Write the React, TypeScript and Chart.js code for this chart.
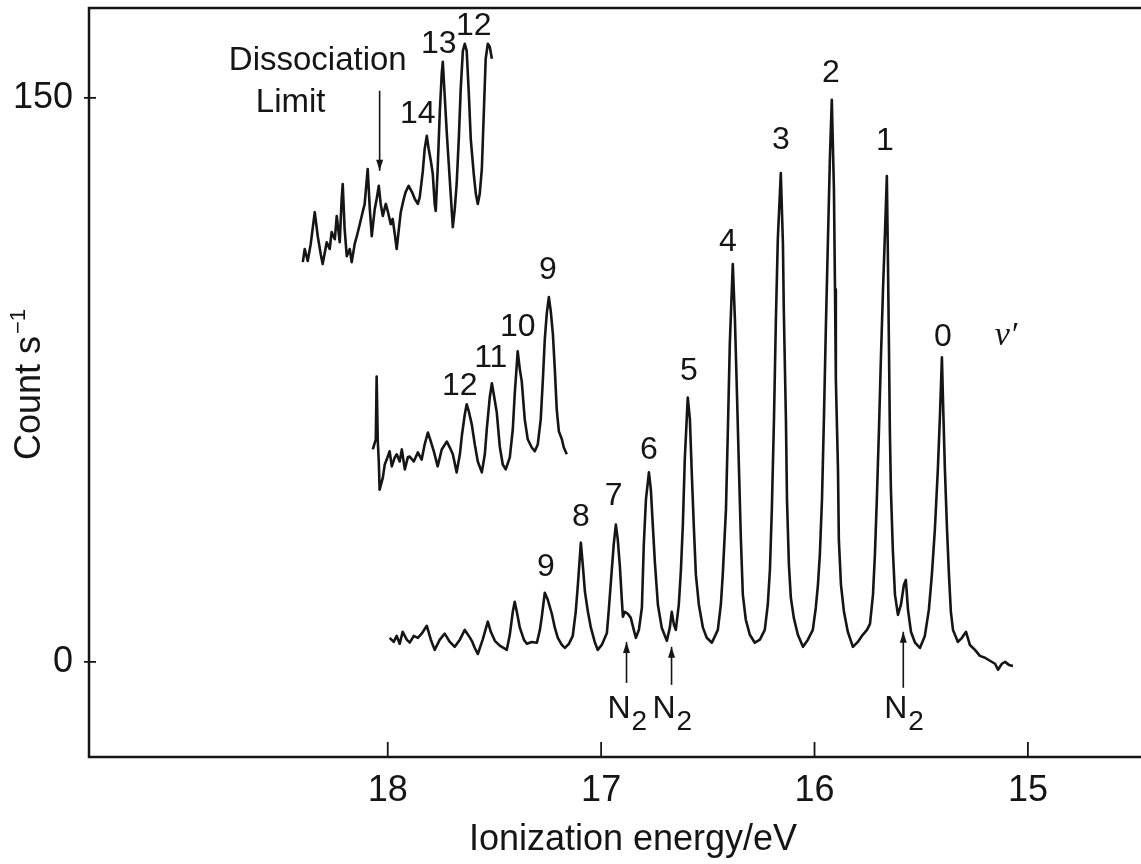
import { useEffect, useRef } from "react";
import { Chart, registerables } from "chart.js";

Chart.register(...registerables);

// ---------- axis ticks ----------
const xTickValues = [18, 17, 16, 15];
const yTickValues = [0, 150];
const xTitle = "Ionization energy/eV";

// ---------- main spectrum (v' = 0 ... 9 and beyond) ----------
const mainEnergy = [
  17.991, 17.972, 17.958, 17.944, 17.93, 17.911, 17.897, 17.878, 17.859, 17.841,
  17.817, 17.798, 17.78, 17.756, 17.733, 17.709, 17.686, 17.662, 17.639, 17.62,
  17.606, 17.592, 17.578, 17.555, 17.531, 17.517, 17.498, 17.475, 17.442, 17.428,
  17.414, 17.405, 17.395, 17.381, 17.362, 17.348, 17.325, 17.301, 17.287, 17.278,
  17.264, 17.25, 17.231, 17.217, 17.203, 17.184, 17.17, 17.151, 17.133, 17.119,
  17.109, 17.095, 17.086, 17.076, 17.062, 17.048, 17.03, 17.016, 16.997, 16.973,
  16.964, 16.95, 16.941, 16.931, 16.922, 16.912, 16.903, 16.898, 16.889, 16.875,
  16.861, 16.847, 16.837, 16.823, 16.809, 16.8, 16.79, 16.776, 16.767, 16.758,
  16.748, 16.734, 16.716, 16.692, 16.678, 16.669, 16.659, 16.65, 16.636, 16.626,
  16.617, 16.608, 16.594, 16.584, 16.575, 16.565, 16.556, 16.542, 16.523, 16.505,
  16.481, 16.453, 16.439, 16.43, 16.415, 16.406, 16.397, 16.383, 16.373, 16.364,
  16.354, 16.345, 16.336, 16.322, 16.303, 16.28, 16.256, 16.233, 16.219, 16.209,
  16.2, 16.19, 16.181, 16.172, 16.158, 16.148, 16.144, 16.134, 16.129, 16.12,
  16.111, 16.097, 16.078, 16.054, 16.031, 16.008, 15.994, 15.984, 15.975, 15.965,
  15.956, 15.947, 15.937, 15.928, 15.919, 15.909, 15.904, 15.9, 15.89, 15.886,
  15.876, 15.862, 15.844, 15.82, 15.797, 15.778, 15.754, 15.74, 15.726, 15.717,
  15.708, 15.698, 15.689, 15.679, 15.67, 15.661, 15.656, 15.651, 15.647, 15.642,
  15.633, 15.623, 15.609, 15.595, 15.581, 15.572, 15.562, 15.548, 15.529, 15.506,
  15.483, 15.464, 15.45, 15.436, 15.422, 15.412, 15.403, 15.398, 15.389, 15.379,
  15.37, 15.361, 15.351, 15.328, 15.309, 15.29, 15.272, 15.248, 15.225, 15.201,
  15.178, 15.154, 15.14, 15.122, 15.107, 15.089, 15.07,
];
const mainCount = [
  6.4, 5.3, 6.9, 4.8, 8.0, 5.9, 5.1, 6.9, 6.4, 7.5,
  9.6, 5.9, 3.2, 5.9, 7.5, 5.3, 4.0, 5.9, 8.5, 6.9,
  5.6, 3.7, 2.1, 5.9, 10.7, 8.0, 5.6, 4.3, 3.2, 7.2,
  13.3, 16.0, 13.3, 9.1, 5.9, 4.8, 5.3, 5.1, 8.5, 12.0,
  18.4, 16.5, 12.8, 9.1, 6.4, 4.5, 3.7, 4.8, 6.9, 13.3,
  20.5, 31.7, 25.8, 18.7, 13.3, 9.1, 5.3, 3.2, 4.5, 7.7,
  13.9, 24.5, 31.2, 36.5, 32.5, 25.3, 16.5, 12.0, 13.3, 12.8,
  11.7, 8.5, 6.4, 8.5, 14.4, 31.2, 43.2, 50.4, 45.8, 36.5,
  26.4, 15.2, 9.1, 5.6, 9.1, 13.3, 9.9, 8.5, 15.2, 24.5,
  36.5, 53.8, 70.3, 64.5, 49.8, 35.2, 23.2, 15.2, 9.1, 6.4,
  5.1, 8.5, 15.2, 23.2, 40.5, 61.8, 84.5, 105.8, 91.1, 72.5,
  51.2, 32.5, 17.9, 11.2, 7.2, 5.1, 5.9, 8.5, 15.2, 24.5,
  40.5, 64.5, 91.1, 112.4, 130.0, 111.1, 93.8, 64.5, 43.2, 25.8,
  17.1, 11.7, 7.2, 4.0, 5.9, 8.5, 14.4, 20.5, 28.5, 43.2,
  64.5, 88.5, 112.4, 133.8, 149.5, 125.8, 99.1, 75.1, 51.2, 32.5,
  20.5, 13.3, 8.0, 4.0, 5.3, 6.9, 8.5, 10.1, 17.9, 28.5,
  43.2, 61.8, 80.5, 99.1, 113.8, 129.2, 107.1, 83.1, 61.8, 45.8,
  29.8, 17.9, 12.5, 15.2, 20.5, 21.8, 13.9, 8.0, 5.1, 3.7,
  6.9, 13.9, 23.2, 35.2, 51.2, 65.8, 81.0, 69.8, 51.2, 35.2,
  23.2, 13.3, 8.5, 5.3, 6.4, 8.0, 4.5, 3.2, 1.6, 1.1,
  0.3, -0.5, -2.1, -0.5, 0, -0.8, -1.1,
];

// ---------- middle spectrum (v' = 9 ... 12, expanded) ----------
const midEnergy = [
  18.07, 18.056, 18.052, 18.047, 18.042, 18.038, 18.023, 18.014, 18.005, 17.991,
  17.981, 17.967, 17.958, 17.944, 17.934, 17.92, 17.906, 17.897, 17.878, 17.859,
  17.841, 17.827, 17.812, 17.798, 17.784, 17.766, 17.747, 17.723, 17.709, 17.695,
  17.677, 17.662, 17.653, 17.639, 17.63, 17.62, 17.606, 17.592, 17.578, 17.559,
  17.545, 17.536, 17.522, 17.512, 17.503, 17.489, 17.475, 17.461, 17.447, 17.428,
  17.414, 17.405, 17.391, 17.381, 17.372, 17.358, 17.344, 17.325, 17.311, 17.297,
  17.283, 17.273, 17.264, 17.255, 17.245, 17.236, 17.226, 17.217, 17.208, 17.198,
  17.184, 17.175, 17.161,
];
const midCount = [
  56.5, 59.2, 75.9, 59.2, 53.3, 45.8, 49.0, 52.5, 53.8, 56.0,
  52.0, 54.4, 55.2, 53.3, 56.5, 51.2, 54.4, 54.6, 53.3, 55.7,
  53.8, 57.8, 61.0, 58.6, 56.0, 52.0, 56.5, 58.6, 57.0, 55.2,
  50.4, 55.2, 60.0, 65.8, 68.5, 66.6, 63.1, 57.8, 53.3, 50.4,
  55.2, 61.8, 70.3, 74.1, 71.1, 66.3, 57.3, 52.5, 51.2, 54.4,
  61.8, 71.1, 82.6, 77.8, 74.6, 64.5, 59.2, 57.0, 56.0, 57.8,
  64.5, 75.1, 85.8, 92.5, 97.0, 93.3, 87.1, 77.8, 67.1, 61.3,
  59.2, 57.0, 55.2,
];

// ---------- top spectrum (v' = 12 ... 14, dissociation limit) ----------
const topEnergy = [
  18.398, 18.389, 18.375, 18.361, 18.342, 18.328, 18.314, 18.305, 18.286, 18.272,
  18.263, 18.248, 18.239, 18.225, 18.216, 18.211, 18.202, 18.192, 18.178, 18.169,
  18.155, 18.145, 18.131, 18.122, 18.108, 18.094, 18.084, 18.075, 18.061, 18.052,
  18.042, 18.033, 18.023, 18.009, 18.0, 17.986, 17.977, 17.967, 17.958, 17.948,
  17.939, 17.925, 17.916, 17.902, 17.887, 17.873, 17.859, 17.85, 17.836, 17.827,
  17.817, 17.808, 17.798, 17.789, 17.78, 17.775, 17.766, 17.756, 17.747, 17.742,
  17.733, 17.723, 17.714, 17.705, 17.695, 17.686, 17.677, 17.667, 17.658, 17.648,
  17.639, 17.63, 17.62, 17.611, 17.597, 17.587, 17.578, 17.569, 17.559, 17.55,
  17.541, 17.531, 17.522, 17.512,
];
const topCount = [
  106.3, 109.8, 106.6, 111.1, 119.6, 113.2, 108.4, 105.8, 111.6, 109.8,
  114.3, 112.4, 118.6, 111.6, 123.1, 127.1, 115.1, 107.9, 109.8, 106.3,
  111.1, 113.2, 116.4, 118.6, 121.8, 131.1, 120.4, 113.2, 120.4, 123.1,
  126.6, 121.8, 118.6, 121.8, 119.9, 116.4, 117.8, 113.8, 109.8, 115.1,
  119.6, 123.1, 125.0, 126.6, 125.0, 123.1, 121.8, 123.6, 130.3, 136.4,
  139.9, 136.4, 133.2, 129.8, 121.8, 119.9, 131.1, 146.3, 156.4, 159.6,
  150.5, 140.4, 132.4, 124.4, 115.6, 120.4, 127.1, 139.1, 152.4, 162.5,
  164.4, 162.5, 151.1, 139.1, 129.8, 124.4, 121.8, 124.4, 131.1, 145.7,
  160.4, 164.4, 163.6, 160.4,
];

// ---------- annotations (data coordinates) ----------
const vLabels = ["0", "1", "2", "3", "4", "5", "6", "7", "8", "9", "9", "10", "11", "12", "14", "13", "12"];
const vLabelEnergy = [15.398, 15.67, 15.923, 16.158, 16.406, 16.589, 16.776, 16.941, 17.095, 17.259, 17.25, 17.391, 17.517, 17.662, 17.859, 17.761, 17.597];
const vLabelCount = [86.3, 138.6, 156.7, 138.8, 111.6, 77.3, 56.2, 44.0, 38.4, 25.3, 104.2, 89.0, 80.7, 73.3, 145.7, 164.4, 169.1];

const n2Energy = [16.881, 16.67, 15.584];
const n2ArrowTop = [5.3, 4.0, 8.0];
const n2ArrowBottom = [-5.6, -6.1, -6.9];
const n2LabelCount = -14.9;

const limitEnergy = 18.038;
const limitArrowFrom = 151.9;
const limitArrowTo = 130.6;
const limitTextLines = ["Dissociation", "Limit"];
const limitTextEnergy = [18.328, 18.455];
const limitTextCount = [159.9, 148.7];

const vPrimeEnergy = 15.103;
const vPrimeCount = 86.6;

const INK = "#151515";
const SANS = '"Liberation Sans", Arial, Helvetica, sans-serif';
const SERIF = '"Liberation Serif", "Times New Roman", serif';

function drawArrow(ctx: CanvasRenderingContext2D, x: number, yFrom: number, yTo: number) {
  ctx.beginPath();
  ctx.moveTo(x, yFrom);
  ctx.lineTo(x, yTo);
  ctx.stroke();
  const dir = Math.sign(yTo - yFrom);
  ctx.beginPath();
  ctx.moveTo(x, yTo);
  ctx.lineTo(x - 3.5, yTo - dir * 11);
  ctx.lineTo(x + 3.5, yTo - dir * 11);
  ctx.closePath();
  ctx.fill();
}

const overlay = {
  id: "overlay",
  afterDraw(chart: any) {
    const { ctx, chartArea: a, scales } = chart;
    const px = (v: number) => scales.x.getPixelForValue(v);
    const py = (v: number) => scales.y.getPixelForValue(v);
    ctx.save();
    ctx.strokeStyle = INK;
    ctx.fillStyle = INK;

    // frame (left, top, bottom)
    ctx.lineWidth = 2.5;
    ctx.beginPath();
    ctx.moveTo(a.right + 10, a.top);
    ctx.lineTo(a.left, a.top);
    ctx.lineTo(a.left, a.bottom);
    ctx.lineTo(a.right + 10, a.bottom);
    ctx.stroke();

    // tick marks
    ctx.lineWidth = 1.8;
    xTickValues.forEach((v) => {
      const x = px(v);
      ctx.beginPath();
      ctx.moveTo(x, a.bottom);
      ctx.lineTo(x, a.bottom - 15);
      ctx.stroke();
    });
    yTickValues.forEach((v) => {
      const y = py(v);
      ctx.beginPath();
      ctx.moveTo(a.left - 5, y);
      ctx.lineTo(a.left + 7, y);
      ctx.stroke();
    });

    // arrows
    ctx.lineWidth = 1.6;
    drawArrow(ctx, px(limitEnergy), py(limitArrowFrom), py(limitArrowTo));
    n2Energy.forEach((e, i) => drawArrow(ctx, px(e), py(n2ArrowBottom[i]), py(n2ArrowTop[i])));

    // v' labels
    ctx.textAlign = "center";
    ctx.textBaseline = "middle";
    ctx.font = `32px ${SANS}`;
    vLabels.forEach((t, i) => ctx.fillText(t, px(vLabelEnergy[i]), py(vLabelCount[i])));

    ctx.font = `33px ${SANS}`;
    limitTextLines.forEach((t, i) => ctx.fillText(t, px(limitTextEnergy[i]), py(limitTextCount[i])));

    ctx.font = `italic 34px ${SERIF}`;
    ctx.fillText("v\u2032", px(vPrimeEnergy), py(vPrimeCount));

    // N2 labels
    ctx.textBaseline = "alphabetic";
    n2Energy.forEach((e) => {
      const x = px(e);
      const y = py(n2LabelCount);
      ctx.textAlign = "right";
      ctx.font = `32px ${SANS}`;
      ctx.fillText("N", x + 4, y);
      ctx.textAlign = "left";
      ctx.font = `28px ${SANS}`;
      ctx.fillText("2", x + 5, y + 12);
    });

    // x title
    ctx.textAlign = "center";
    ctx.font = `36px ${SANS}`;
    ctx.fillText(xTitle, (a.left + a.right) / 2 + 18, a.bottom + 93);

    // y title with superscript
    ctx.save();
    ctx.translate(40, (a.top + a.bottom) / 2 + 2);
    ctx.rotate(-Math.PI / 2);
    ctx.textAlign = "left";
    ctx.font = `36px ${SANS}`;
    const main = "Count s";
    const w1 = ctx.measureText(main).width;
    ctx.font = `22px ${SANS}`;
    const sup = "\u22121";
    const w2 = ctx.measureText(sup).width;
    const start = -(w1 + w2 + 2) / 2;
    ctx.font = `36px ${SANS}`;
    ctx.fillText(main, start, 0);
    ctx.font = `22px ${SANS}`;
    ctx.fillText(sup, start + w1 + 2, -15);
    ctx.restore();

    ctx.restore();
  },
};

function series(xs: number[], ys: number[]) {
  return xs.map((x, i) => ({ x, y: ys[i] }));
}

export default function App() {
  const ref = useRef<HTMLCanvasElement | null>(null);

  useEffect(() => {
    if (!ref.current) return;
    const lineStyle = {
      borderColor: INK,
      borderWidth: 2.6,
      pointRadius: 0,
      tension: 0,
      borderJoinStyle: "round" as const,
      fill: false,
    };
    const chart = new Chart(ref.current, {
      type: "line",
      data: {
        datasets: [
          { label: "main", data: series(mainEnergy, mainCount), ...lineStyle },
          { label: "middle", data: series(midEnergy, midCount), ...lineStyle },
          { label: "top", data: series(topEnergy, topCount), ...lineStyle },
        ],
      },
      options: {
        responsive: false,
        animation: false,
        events: [],
        layout: { padding: { top: 8, left: 0, right: 0, bottom: 0 } },
        plugins: {
          legend: { display: false },
          tooltip: { enabled: false },
          title: { display: false },
        },
        scales: {
          x: {
            type: "linear",
            reverse: true,
            min: 14.47,
            max: 19.4,
            grid: { display: false, drawTicks: false },
            border: { display: false },
            afterBuildTicks: (s: any) => {
              s.ticks = xTickValues.map((v) => ({ value: v }));
            },
            afterFit: (s: any) => {
              s.height = 107;
              s.paddingLeft = 0;
              s.paddingRight = 0;
            },
            ticks: {
              color: INK,
              font: { family: SANS, size: 36 },
              padding: 12,
              maxRotation: 0,
              autoSkip: false,
              callback: (v: any) => String(v),
            },
          },
          y: {
            type: "linear",
            min: -25.3,
            max: 173.9,
            grid: { display: false, drawTicks: false },
            border: { display: false },
            afterBuildTicks: (s: any) => {
              s.ticks = yTickValues.map((v) => ({ value: v }));
            },
            afterFit: (s: any) => {
              s.width = 89;
              s.paddingTop = 0;
              s.paddingBottom = 0;
            },
            ticks: {
              color: INK,
              font: { family: SANS, size: 36 },
              padding: 16,
              autoSkip: false,
              callback: (v: any) => String(v),
            },
          },
        },
      },
      plugins: [overlay],
    });
    return () => chart.destroy();
  }, []);

  return (
    <div style={{ position: "fixed", left: 0, top: 0, width: 1141, height: 864, overflow: "hidden", background: "#fff" }}>
      <canvas ref={ref} width={1141} height={864} style={{ display: "block" }} />
    </div>
  );
}
